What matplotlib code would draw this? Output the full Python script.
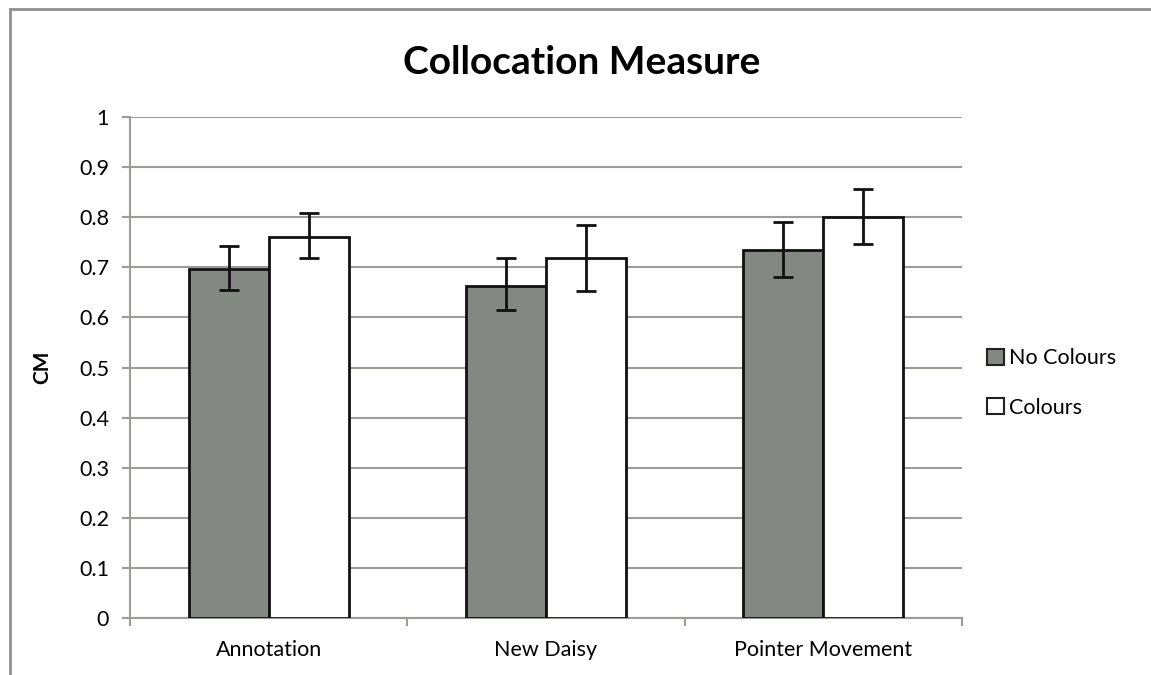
import matplotlib
matplotlib.use("Agg")
import matplotlib.pyplot as plt
import numpy as np
from matplotlib.lines import Line2D
from matplotlib.patches import Patch

categories = ["Annotation", "New Daisy", "Pointer Movement"]
series_names = ["No Colours", "Colours"]
no_colours = [0.697, 0.662, 0.734]
no_colours_err_low = [0.655, 0.614, 0.681]
no_colours_err_high = [0.742, 0.718, 0.791]
colours = [0.761, 0.718, 0.800]
colours_err_low = [0.718, 0.653, 0.747]
colours_err_high = [0.808, 0.785, 0.857]
yticks = [0, 0.1, 0.2, 0.3, 0.4, 0.5, 0.6, 0.7, 0.8, 0.9, 1]
ytick_labels = ["0", "0.1", "0.2", "0.3", "0.4", "0.5", "0.6", "0.7", "0.8", "0.9", "1"]

plt.rcParams['font.family'] = ['Lato', 'DejaVu Sans']

W, H = 1151, 675
fig = plt.figure(figsize=(W / 100, H / 100), dpi=100)
ax = fig.add_axes([130 / W, 1 - 618 / H, (962 - 130) / W, (618 - 117) / H])

x = np.arange(len(categories))
bw = 0.289
gray = "#838882"
grid_c = "#9a9d98"

nc = np.array(no_colours)
c = np.array(colours)
err_nc = [nc - np.array(no_colours_err_low), np.array(no_colours_err_high) - nc]
err_c = [c - np.array(colours_err_low), np.array(colours_err_high) - c]

ax.bar(x - bw / 2, nc, bw, color=gray, edgecolor="#111111", linewidth=2, zorder=3)
ax.bar(x + bw / 2, c, bw, color="white", edgecolor="#111111", linewidth=2, zorder=3)
ax.errorbar(x - bw / 2, nc, yerr=err_nc, fmt="none", ecolor="#111111", elinewidth=2,
            capsize=7, capthick=2, zorder=4)
ax.errorbar(x + bw / 2, c, yerr=err_c, fmt="none", ecolor="#111111", elinewidth=2,
            capsize=7, capthick=2, zorder=4)

ax.set_xlim(-0.5, len(categories) - 0.5)
ax.set_ylim(0, 1)
ax.set_yticks(yticks)
ax.set_yticklabels(ytick_labels, fontsize=15.5)
ax.yaxis.grid(True, color=grid_c, linewidth=1.5, zorder=0)
ax.set_axisbelow(True)

ax.set_xticks(x)
ax.set_xticklabels(categories, fontsize=15.5)
ax.tick_params(axis="x", length=0, pad=16)
ax.set_xticks(np.arange(-0.5, len(categories)), minor=True)
ax.tick_params(axis="x", which="minor", length=6, color=grid_c, width=1.5, direction="out")
ax.tick_params(axis="y", length=6, color=grid_c, width=1.5, direction="out", pad=9)

for s in ["top", "right"]:
    ax.spines[s].set_visible(False)
for s in ["left", "bottom"]:
    ax.spines[s].set_color(grid_c)
    ax.spines[s].set_linewidth(1.5)

ax.set_ylabel("CM", fontsize=15, fontweight="bold", labelpad=19)

fig.text(582 / W, 1 - 62 / H, "Collocation Measure", fontsize=28, fontweight="bold",
         ha="center", va="center")

handles = [Patch(facecolor=gray, edgecolor="#222222", linewidth=1.5),
           Patch(facecolor="white", edgecolor="#222222", linewidth=1.5)]
fig.legend(handles, series_names, loc="center left", bbox_to_anchor=(968 / W, 1 - 383 / H),
           frameon=False, fontsize=15.5, handlelength=0.75, handleheight=0.75,
           handletextpad=0.25, labelspacing=1.35)

# outer border (top and left)
fig.add_artist(Line2D([10 / W, 1], [1 - 9 / H, 1 - 9 / H], color="#8f918e", linewidth=2,
                      transform=fig.transFigure))
fig.add_artist(Line2D([10 / W, 10 / W], [0, 1 - 9 / H], color="#8f918e", linewidth=2,
                      transform=fig.transFigure))

fig.savefig("out.png", dpi=100)
